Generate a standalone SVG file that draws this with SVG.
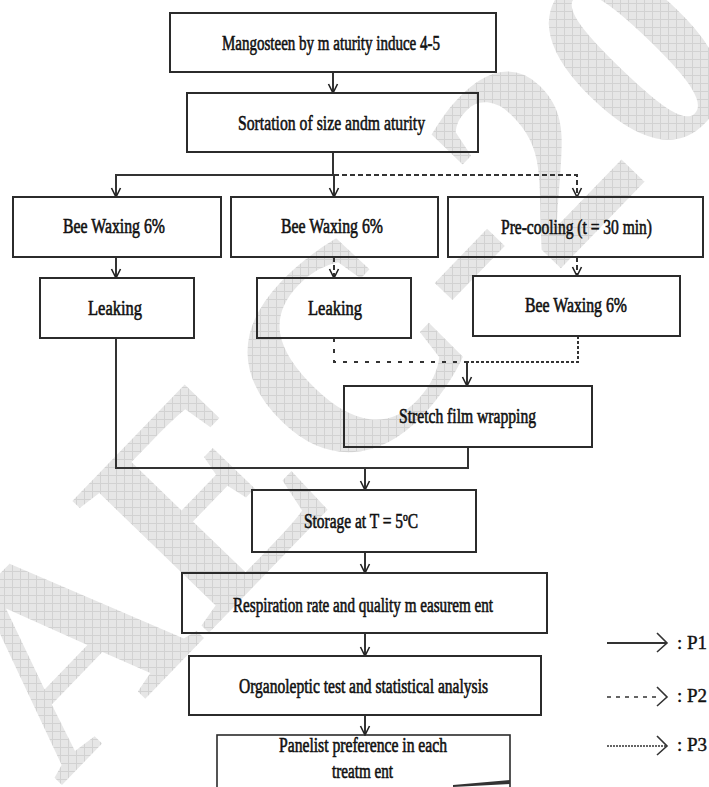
<svg xmlns="http://www.w3.org/2000/svg" width="709" height="787" viewBox="0 0 709 787">
<defs>
<pattern id="hatch" width="8" height="8" patternUnits="userSpaceOnUse" patternTransform="rotate(46)">
<rect width="8" height="8" fill="#e6e6e6"/>
<path d="M0,0.5H8M0.5,0V8" stroke="#d2d2d2" stroke-width="1"/>
</pattern>
<marker id="v" markerWidth="12" markerHeight="12" viewBox="-11 -6 12 12" refX="0" refY="0" orient="auto" markerUnits="userSpaceOnUse">
<path d="M-9,-4.5 L0,0 L-9,4.5" fill="none" stroke="#222" stroke-width="1.6"/>
</marker>
<style>
.box{fill:none;stroke:#2b2b2b;stroke-width:2}
.t{font-family:"Liberation Serif","Times New Roman",serif;font-size:20px;fill:#111;stroke:#111;stroke-width:0.6;text-anchor:start}
.ln{fill:none;stroke:#333;stroke-width:2}
.d1{stroke-dasharray:5 3}
.d2{stroke-dasharray:4 7}
.d3{stroke-dasharray:3 2}
.lg{font-family:"Liberation Serif","Times New Roman",serif;font-size:19px;fill:#111;stroke:#111;stroke-width:0.4}
</style>
</defs>
<rect width="709" height="787" fill="#fff"/>
<g id="watermark">
<text transform="translate(60,787) rotate(-46)" font-family="Liberation Serif, serif" font-weight="bold" font-size="290" fill="url(#hatch)">AEC-20</text>
</g>
<g id="connectors">
<path class="ln" d="M333,72V93" marker-end="url(#v)"/>
<path class="ln" d="M333,152V175H116V197" marker-end="url(#v)"/>
<path class="ln" d="M334,175V197" marker-end="url(#v)"/>
<path class="ln d1" d="M334,175H577V197" marker-end="url(#v)"/>
<path class="ln" d="M116,257V278" marker-end="url(#v)"/>
<path class="ln d1" d="M334,257V278" marker-end="url(#v)"/>
<path class="ln d1" d="M577,257V276" marker-end="url(#v)"/>
<path class="ln" d="M116,338V468H468V447"/>
<path class="ln d2" d="M334,338V362H467"/>
<path class="ln d3" d="M578,336V362H467"/>
<path class="ln" d="M467,362V386" marker-end="url(#v)"/>
<path class="ln" d="M365,468V490" marker-end="url(#v)"/>
<path class="ln" d="M365,552V573" marker-end="url(#v)"/>
<path class="ln" d="M365,633V656" marker-end="url(#v)"/>
<path class="ln" d="M365,715V735" marker-end="url(#v)"/>
</g>
<g id="n1"><rect class="box" x="170" y="13" width="326" height="59"/><text class="t" x="222" y="50" textLength="218" lengthAdjust="spacingAndGlyphs">Mangosteen by m aturity induce 4-5</text></g>
<g id="n2"><rect class="box" x="187" y="93" width="291" height="59"/><text class="t" x="238" y="130" style="font-size:22px" textLength="187" lengthAdjust="spacingAndGlyphs">Sortation of size  andm aturity</text></g>
<g id="n3a"><rect class="box" x="13" y="197" width="208" height="60"/><text class="t" x="63" y="233" textLength="102" lengthAdjust="spacingAndGlyphs">Bee Waxing 6%</text></g>
<g id="n3b"><rect class="box" x="231" y="197" width="207" height="60"/><text class="t" x="281" y="233" textLength="102" lengthAdjust="spacingAndGlyphs">Bee Waxing 6%</text></g>
<g id="n3c"><rect class="box" x="448" y="197" width="255" height="60"/><text class="t" x="501" y="234" textLength="151" lengthAdjust="spacingAndGlyphs">Pre-cooling (t = 30 min)</text></g>
<g id="n4a"><rect class="box" x="40" y="278" width="154" height="60"/><text class="t" x="88" y="315" textLength="54" lengthAdjust="spacingAndGlyphs">Leaking</text></g>
<g id="n4b"><rect class="box" x="257" y="278" width="154" height="60"/><text class="t" x="308" y="315" textLength="54" lengthAdjust="spacingAndGlyphs">Leaking</text></g>
<g id="n4c"><rect class="box" x="473" y="276" width="207" height="60"/><text class="t" x="525" y="312" textLength="102" lengthAdjust="spacingAndGlyphs">Bee Waxing 6%</text></g>
<g id="n5"><rect class="box" x="344" y="386" width="248" height="61"/><text class="t" x="399" y="423" textLength="137" lengthAdjust="spacingAndGlyphs">Stretch film  wrapping</text></g>
<g id="n6"><rect class="box" x="252" y="490" width="224" height="62"/><text class="t" x="304" y="528" textLength="114" lengthAdjust="spacingAndGlyphs">Storage at T = 5ºC</text></g>
<g id="n7"><rect class="box" x="182" y="573" width="365" height="60"/><text class="t" x="233" y="612" textLength="260" lengthAdjust="spacingAndGlyphs">Respiration rate and quality m easurem ent</text></g>
<g id="n8"><rect class="box" x="189" y="656" width="352" height="59"/><text class="t" x="239" y="693" textLength="249" lengthAdjust="spacingAndGlyphs">Organoleptic test and statistical analysis</text></g>
<g id="n9"><rect class="box" x="217" y="735" width="293" height="60" style="stroke-width:1.6"/><polygon points="453,785 510,780 510,784 453,787" fill="#333"/><text class="t" x="279" y="752" textLength="168" lengthAdjust="spacingAndGlyphs">Panelist preference in each</text><text class="t" x="332" y="778" textLength="61" lengthAdjust="spacingAndGlyphs">treatm ent</text></g>
<g id="legend">
<path class="ln" d="M607,643H667" stroke-width="1.6"/>
<path d="M657,633L667,643L657,652" fill="none" stroke="#333" stroke-width="1.6"/>
<path class="ln" d="M607,697H660" style="stroke-dasharray:4 5;stroke-width:1.6"/>
<path d="M657,687L667,697L657,706" fill="none" stroke="#333" stroke-width="1.6"/>
<path class="ln" d="M607,746H667" style="stroke-dasharray:2 1;stroke-width:1.6"/>
<path d="M657,736L667,746L657,755" fill="none" stroke="#333" stroke-width="1.6"/>
<text class="lg" x="677" y="649">: P1</text>
<text class="lg" x="677" y="702">: P2</text>
<text class="lg" x="677" y="751">: P3</text>
</g>
</svg>
